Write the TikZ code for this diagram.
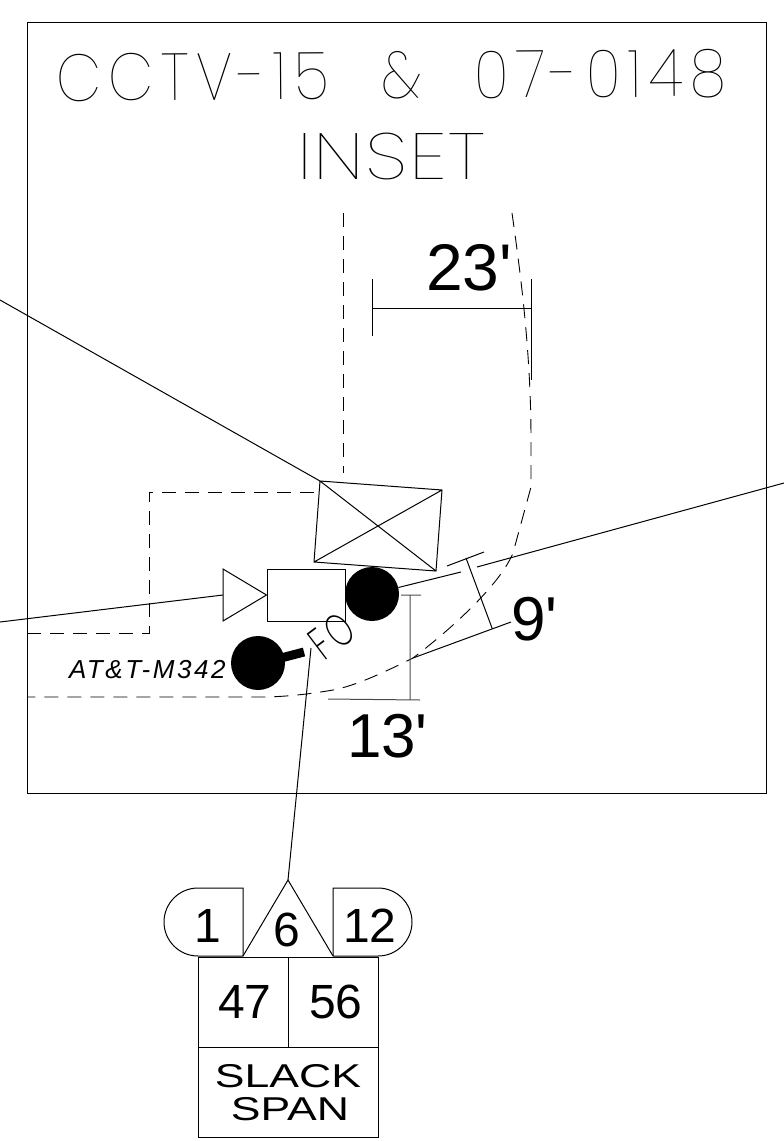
\documentclass[tikz,border=0pt]{standalone}
\usepackage{fontspec}
\setmainfont{Liberation Sans}
\newfontfamily\thinfont[UprightFont={* Thin}]{Poppins}
\newfontfamily\lightfont[UprightFont={* ExtraLight}]{Poppins}
\usetikzlibrary{calc}
\tikzset{
  ln/.style={draw=black,line width=1pt},
  dsh/.style={draw=black,line width=0.9pt,dash pattern=on 14pt off 9pt},
  lbl/.style={inner sep=0pt,outer sep=0pt,text=black},
  dot/.style={circle,fill=black,minimum size=54pt,inner sep=0pt}
}
\begin{document}
\begin{tikzpicture}[x=1pt,y=-1pt]
\useasboundingbox (0,0) rectangle (784,1141);
% frame
\draw[ln] (27,22) rectangle (766,793);
% titles
\node[lbl,font=\thinfont\fontsize{92}{92}\selectfont,rotate=0.4,xscale=0.64,yscale=0.72] (title) at (391,76) {\addfontfeatures{LetterSpace=12.5}CCTV-15 \hspace{44pt}\& \hspace{44pt}07-0148};
\node[lbl,font=\thinfont\fontsize{92}{92}\selectfont,xscale=0.85,yscale=0.71] (inset) at (391,157) {\addfontfeatures{LetterSpace=2}INSET};
% dashed ways
\draw[dsh] (343,213) -- (343,473);
\draw[dsh] (512,213) .. controls (520,270) and (531,350) .. (531,440) -- (531,487) -- (513,553) .. controls (500,585) and (450,630) .. (413,658) .. controls (385,672) and (355,686) .. (333,690) .. controls (310,694) and (285,697) .. (260,697) -- (27,697);
\draw[dsh] (27,633) -- (149,633) -- (149,492) -- (318,492);
% dimension 23
\draw[ln] (372,279) -- (372,336) (372,308) -- (531,308) (531,279) -- (531,380);
\node[lbl,font=\fontsize{66}{66}\selectfont,anchor=base west] (d23) at (426,290) {23\textquotesingle};
% cabinet
\coordinate (cabA) at (320,481);
\coordinate (cabB) at (442,490);
\coordinate (cabC) at (436,571);
\coordinate (cabD) at (314,562);
\draw[ln] (cabA) -- (cabB) -- (cabC) -- (cabD) -- cycle (cabA) -- (cabC) (cabB) -- (cabD);
\coordinate (nw) at (0,300);
\draw[ln] (nw) -- (cabA);
% camera
\node[draw=black,line width=1pt,minimum width=78pt,minimum height=52pt,inner sep=0pt] (cam) at (306,595) {};
\coordinate (triA) at (223,569);
\coordinate (triB) at (223,621);
\draw[ln] (triA) -- (triB) -- (cam.west) -- cycle;
\coordinate (wfree) at (0,622);
\draw[ln] (wfree) -- ($(triA)!0.5!(triB)$);
% poles
\node[dot] (pole1) at (372,594) {};
\node[dot] (pole2) at (258,663) {};
\draw[black,line width=9pt] (281,658) -- (304,652);
\coordinate (gapA) at (461,572);
\coordinate (gapB) at (477,567);
\coordinate (efree) at (784,483);
\draw[ln] (pole1) -- (gapA) (gapB) -- (efree);
% dimension 9
\draw[ln] (447,566) -- (484,552) (466,558) -- (492,628) (413,658) -- (511,622);
\node[lbl,font=\fontsize{62}{62}\selectfont,anchor=base west] (d9) at (511,640) {9\textquotesingle};
% dimension 13
\draw[ln,draw=black!70] (401,595) -- (421,595) (410,595) -- (410,699) (328,699) -- (420,700);
\node[lbl,font=\fontsize{62}{62}\selectfont,anchor=base west] (d13) at (347,757) {13\textquotesingle};
% labels
\node[lbl,font=\itshape\fontsize{26}{26}\selectfont,anchor=base west] (att) at (69,678) {\addfontfeatures{LetterSpace=10}AT\&T-M342};
\node[lbl,font=\lightfont\fontsize{46}{46}\selectfont,rotate=37,xscale=0.66] (fo) at (332,636) {\addfontfeatures{LetterSpace=14}FO};
% leader
\coordinate (lead) at (311,648);
% slack box
\coordinate (apex) at (288,880);
\draw[ln] (lead) -- (apex);
\draw[ln] (243,956) -- (apex) -- (333,956);
\draw[ln] (243,956) -- (243,888) -- (198,888) arc[start angle=-90,end angle=-270,radius=34] -- (243,956);
\draw[ln] (333,956) -- (333,888) -- (378,888) arc[start angle=-90,end angle=90,radius=34] -- (333,956);
\draw[ln] (198,957) rectangle (378,1137) (198,1047) -- (378,1047) (288,957) -- (288,1047);
\node[lbl,font=\fontsize{48}{48}\selectfont] (n1) at (208,926) {1};
\node[lbl,font=\fontsize{48}{48}\selectfont] (n6) at (287,930) {6};
\node[lbl,font=\fontsize{48}{48}\selectfont] (n12) at (370,926) {12};
\node[lbl,font=\fontsize{48}{48}\selectfont] (n47) at (245,1002) {47};
\node[lbl,font=\fontsize{48}{48}\selectfont] (n56) at (336,1002) {56};
\node[lbl,font=\fontsize{33}{33}\selectfont,xscale=1.35] (sl) at (288,1076) {SLACK};
\node[lbl,font=\fontsize{33}{33}\selectfont,xscale=1.35] (sp) at (290,1109) {SPAN};
\end{tikzpicture}
\end{document}
